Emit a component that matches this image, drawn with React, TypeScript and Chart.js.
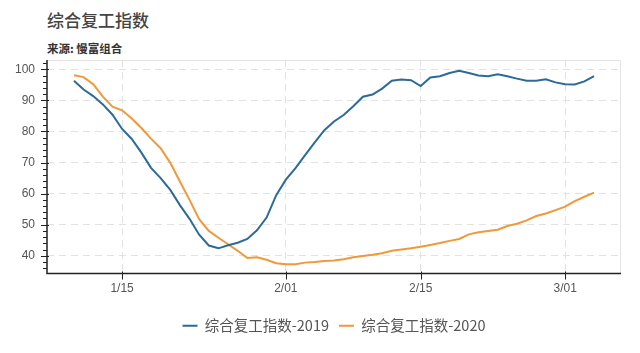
import React, { useEffect, useRef } from 'react';
import { Chart, registerables } from 'chart.js';

Chart.register(...registerables);

const dates = [
  '1/10', '1/11', '1/12', '1/13', '1/14', '1/15', '1/16', '1/17', '1/18', '1/19',
  '1/20', '1/21', '1/22', '1/23', '1/24', '1/25', '1/26', '1/27', '1/28', '1/29',
  '1/30', '1/31', '2/01', '2/02', '2/03', '2/04', '2/05', '2/06', '2/07', '2/08',
  '2/09', '2/10', '2/11', '2/12', '2/13', '2/14', '2/15', '2/16', '2/17', '2/18',
  '2/19', '2/20', '2/21', '2/22', '2/23', '2/24', '2/25', '2/26', '2/27', '2/28',
  '2/29', '3/01', '3/02', '3/03', '3/04',
];

const series2019 = [
  96.3, 93.5, 91.4, 88.7, 85.4, 80.8, 77.6, 73.2, 68.3, 65.0,
  61.2, 56.3, 51.9, 46.8, 43.3, 42.4, 43.4, 44.2, 45.4, 48.2,
  52.3, 59.5, 64.5, 68.2, 72.4, 76.5, 80.4, 83.2, 85.3, 88.1,
  91.2, 91.9, 93.8, 96.3, 96.7, 96.5, 94.6, 97.4, 97.8, 98.8,
  99.5, 98.8, 98.0, 97.8, 98.4, 97.8, 97.0, 96.3, 96.3, 96.8,
  95.8, 95.2, 95.1, 96.1, 97.8,
];

const series2020 = [
  98.1, 97.5, 95.2, 91.2, 88.0, 86.8, 84.2, 81.1, 77.7, 74.6,
  69.9, 63.9, 58.0, 51.8, 48.0, 45.8, 43.7, 41.6, 39.3, 39.5,
  38.7, 37.6, 37.3, 37.3, 37.8, 38.0, 38.3, 38.5, 38.9, 39.5,
  39.9, 40.3, 40.8, 41.6, 42.0, 42.4, 42.9, 43.5, 44.1, 44.8,
  45.4, 46.9, 47.6, 48.0, 48.4, 49.6, 50.3, 51.4, 52.8, 53.6,
  54.7, 55.8, 57.6, 59.0, 60.3,
];

const seriesNames = ['综合复工指数-2019', '综合复工指数-2020'];
const xTickLabels = ['1/15', '2/01', '2/15', '3/01'];
const yTickValues = [40, 50, 60, 70, 80, 90, 100];

const TITLE = '综合复工指数';
const SUBTITLE = '来源: 慢富组合';

const cumDays = [0, 31, 60];
function dayIndex(s: string): number {
  const [m, d] = s.split('/').map(Number);
  return cumDays[m - 1] + d - 1;
}

const xTickValues = xTickLabels.map(dayIndex);
const labelByDay: Record<number, string> = {};
xTickLabels.forEach((l) => { labelByDay[dayIndex(l)] = l; });

const LEGEND_SHIFT = 23.5;

const axisPlugin = {
  id: 'axisMarks',
  afterLayout(chart: any) {
    const lg = chart.legend;
    if (lg) {
      lg.left += LEGEND_SHIFT;
      lg.right += LEGEND_SHIFT;
    }
  },
  beforeDatasetsDraw(chart: any) {
    const { ctx, chartArea } = chart;
    ctx.save();
    ctx.strokeStyle = '#e4e4e4';
    ctx.lineWidth = 1;
    ctx.beginPath();
    ctx.moveTo(chartArea.left, chartArea.top + 0.5);
    ctx.lineTo(chartArea.right - 0.5, chartArea.top + 0.5);
    ctx.lineTo(chartArea.right - 0.5, chartArea.bottom);
    ctx.stroke();
    ctx.restore();
  },
  afterDraw(chart: any) {
    const { ctx, chartArea, scales } = chart;
    const x = scales.x;
    const y = scales.y;
    ctx.save();
    ctx.strokeStyle = '#222';
    ctx.lineWidth = 1.5;
    ctx.beginPath();
    ctx.moveTo(chartArea.left, chartArea.top);
    ctx.lineTo(chartArea.left, chartArea.bottom);
    ctx.lineTo(chartArea.right, chartArea.bottom);
    ctx.stroke();
    ctx.lineWidth = 1;
    ctx.beginPath();
    const start = Math.ceil(y.min / 2) * 2;
    for (let v = start; v <= y.max; v += 2) {
      const py = Math.round(y.getPixelForValue(v)) + 0.5;
      const major = v % 10 === 0;
      ctx.moveTo(chartArea.left - (major ? 6 : 4), py);
      ctx.lineTo(chartArea.left + (major ? 2 : 0), py);
    }
    xTickValues.forEach((d) => {
      const px = Math.round(x.getPixelForValue(d)) + 0.5;
      ctx.moveTo(px, chartArea.bottom - 2);
      ctx.lineTo(px, chartArea.bottom + 6);
    });
    ctx.stroke();
    ctx.restore();
  },
};

export default function App() {
  const canvasRef = useRef<HTMLCanvasElement | null>(null);

  useEffect(() => {
    if (!canvasRef.current) return;
    const tickFont = { family: '"Liberation Sans", Arial, sans-serif', size: 12 };
    const chart = new Chart(canvasRef.current, {
      type: 'line',
      data: {
        datasets: [
          {
            label: seriesNames[0],
            data: dates.map((d, i) => ({ x: dayIndex(d), y: series2019[i] })),
            borderColor: '#2c6b98',
            backgroundColor: '#2c6b98',
            borderWidth: 2,
            pointRadius: 0,
            tension: 0,
          },
          {
            label: seriesNames[1],
            data: dates.map((d, i) => ({ x: dayIndex(d), y: series2020[i] })),
            borderColor: '#f0993b',
            backgroundColor: '#f0993b',
            borderWidth: 2,
            pointRadius: 0,
            tension: 0,
          },
        ],
      },
      options: {
        animation: false,
        responsive: false,
        maintainAspectRatio: false,
        layout: { padding: { top: 60, left: 0, right: 19, bottom: 10 } },
        scales: {
          x: {
            type: 'linear',
            min: 6.2,
            max: 65.8,
            afterBuildTicks: (scale: any) => {
              scale.ticks = xTickValues.map((v) => ({ value: v }));
            },
            afterFit: (scale: any) => { scale.height = 35; },
            ticks: {
              callback: (v: any) => labelByDay[v as number] ?? '',
              color: '#555',
              font: tickFont,
              padding: 8,
              maxRotation: 0,
              autoSkip: false,
            },
            grid: { color: '#e2e2e2', drawTicks: false, lineWidth: 1 },
            border: { display: false, dash: [7, 5] },
          },
          y: {
            type: 'linear',
            min: 34.3,
            max: 103,
            afterBuildTicks: (scale: any) => {
              scale.ticks = yTickValues.map((v) => ({ value: v }));
            },
            afterFit: (scale: any) => { scale.width = 47; },
            ticks: {
              color: '#555',
              font: tickFont,
              padding: 12,
            },
            grid: { color: '#e2e2e2', drawTicks: false, lineWidth: 1 },
            border: { display: false, dash: [7, 5] },
          },
        },
        plugins: {
          legend: {
            position: 'bottom',
            labels: {
              usePointStyle: true,
              pointStyle: 'line',
              pointStyleWidth: 15,
              color: '#555',
              font: { family: '"Noto Sans CJK SC", sans-serif', size: 14.5 },
              padding: 10,
            },
          },
          tooltip: { enabled: false },
        },
      },
      plugins: [axisPlugin],
    } as any);
    return () => chart.destroy();
  }, []);

  return (
    <div style={{ position: 'fixed', left: 0, top: 0, width: 640, height: 353, background: '#fff', overflow: 'hidden' }}>
      <div style={{ position: 'absolute', left: 47, top: 8, fontFamily: '"Noto Sans CJK SC", sans-serif', fontSize: 17, fontWeight: 500, color: '#444', lineHeight: '24px', whiteSpace: 'nowrap' }}>
        {TITLE}
      </div>
      <div style={{ position: 'absolute', left: 47, top: 40, fontFamily: '"Noto Sans CJK SC", sans-serif', fontSize: 11.5, fontWeight: 700, color: '#333', lineHeight: '16px', whiteSpace: 'nowrap' }}>
        {SUBTITLE}
      </div>
      <canvas ref={canvasRef} width={640} height={353} style={{ position: 'absolute', left: 0, top: 0, width: 640, height: 353 }} />
    </div>
  );
}
